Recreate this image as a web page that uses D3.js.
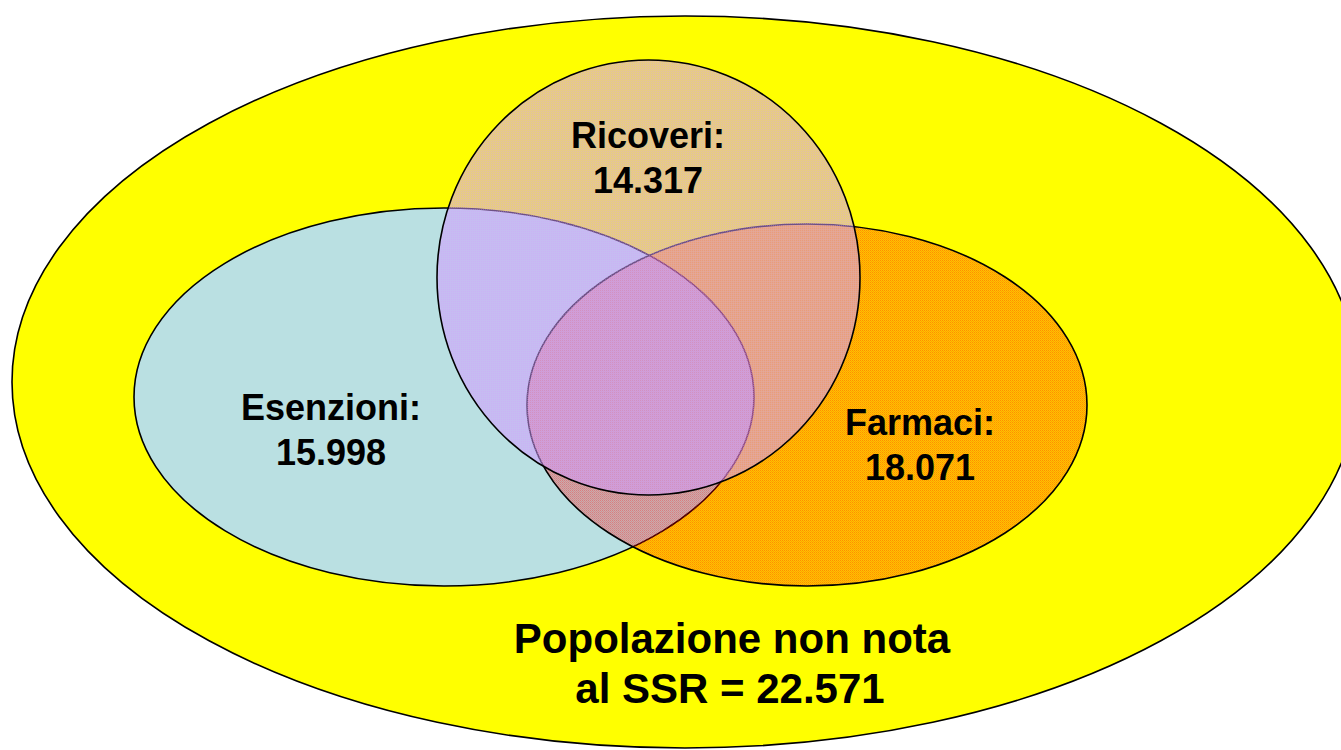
<!DOCTYPE html>
<html>
<head>
<meta charset="utf-8">
<script src="https://cdn.jsdelivr.net/npm/d3@7"></script>
<style>
  html, body { margin: 0; padding: 0; background: #fff; overflow: hidden; }
  svg { display: block; }
  text { font-family: "Liberation Sans", Arial, sans-serif; font-weight: bold; fill: #000; }
</style>
</head>
<body>
<div id="wrapper"></div>
<script>
// data
const setNames = ["Esenzioni", "Farmaci", "Ricoveri"];
const setValues = [15998, 18071, 14317];
const outsideLabel = ["Popolazione non nota", "al SSR"];
const outsideValue = 22571;

// italian number format: 15.998
const itFormat = d3.formatLocale({ decimal: ",", thousands: ".", grouping: [3], currency: ["€", ""] }).format(",d");

function drawVenn() {
  const dimensions = { width: 1341, height: 750 };

  // layout space = pixels of the picture
  const xScale = d3.scaleLinear().domain([0, dimensions.width]).range([0, dimensions.width]);
  const yScale = d3.scaleLinear().domain([0, dimensions.height]).range([0, dimensions.height]);

  // ellipse layout (drawing order: bottom to top)
  const shapes = {
    outer:     { cx: 685, cy: 382, rx: 673, ry: 366, fill: "#ffff00" },
    Esenzioni: { cx: 444, cy: 397, rx: 310, ry: 189, fill: "#bae0e2" },
    Farmaci:   { cx: 807, cy: 405, rx: 280, ry: 181, fill: "url(#pat-farmaci)" },
    Ricoveri:  { cx: 648.5, cy: 277.5, rx: 211.5, ry: 217.5, fill: "url(#pat-ricoveri)" },
  };
  const labelPos = {
    Esenzioni: { x: 331, y: 420 },
    Farmaci:   { x: 920, y: 435 },
    Ricoveri:  { x: 648, y: 148 },
  };

  const svg = d3.select("#wrapper").append("svg")
    .attr("width", dimensions.width)
    .attr("height", dimensions.height);

  const defs = svg.append("defs");

  // dithered transparent fills, like the original
  function makePattern(id, color, alphas) {
    const p = defs.append("pattern")
      .attr("id", id)
      .attr("patternUnits", "userSpaceOnUse")
      .attr("width", 2)
      .attr("height", 2);
    alphas.forEach((a, i) => {
      p.append("rect")
        .attr("x", i % 2)
        .attr("y", Math.floor(i / 2))
        .attr("width", 1)
        .attr("height", 1)
        .attr("fill", color)
        .attr("fill-opacity", a);
    });
  }
  makePattern("pat-farmaci", "#ff0000", [0.44, 0.24, 0.24, 0.36]);
  makePattern("pat-ricoveri", "#d29bff", [0.52, 0.52, 0.52, 0.66]);

  const order = ["outer", "Esenzioni", "Farmaci", "Ricoveri"];
  svg.selectAll("ellipse")
    .data(order)
    .join("ellipse")
    .attr("cx", d => xScale(shapes[d].cx))
    .attr("cy", d => yScale(shapes[d].cy))
    .attr("rx", d => xScale(shapes[d].rx) - xScale(0))
    .attr("ry", d => yScale(shapes[d].ry) - yScale(0))
    .attr("fill", d => shapes[d].fill)
    .attr("stroke", "#000")
    .attr("stroke-width", 1.6);

  // set labels
  const labels = svg.append("g");
  setNames.forEach((name, i) => {
    const t = labels.append("text")
      .attr("text-anchor", "middle")
      .style("font-size", "36px")
      .attr("x", xScale(labelPos[name].x))
      .attr("y", yScale(labelPos[name].y));
    t.append("tspan").attr("x", xScale(labelPos[name].x)).text(name + ":");
    t.append("tspan").attr("x", xScale(labelPos[name].x)).attr("dy", 45).text(itFormat(setValues[i]));
  });

  const outer = svg.append("text")
    .attr("text-anchor", "middle")
    .style("font-size", "42px")
    .attr("x", xScale(732))
    .attr("y", yScale(653));
  outer.append("tspan").attr("x", xScale(732)).text(outsideLabel[0]);
  outer.append("tspan").attr("x", xScale(730)).attr("dy", 50).text(outsideLabel[1] + " = " + itFormat(outsideValue));
}

drawVenn();
</script>
</body>
</html>
